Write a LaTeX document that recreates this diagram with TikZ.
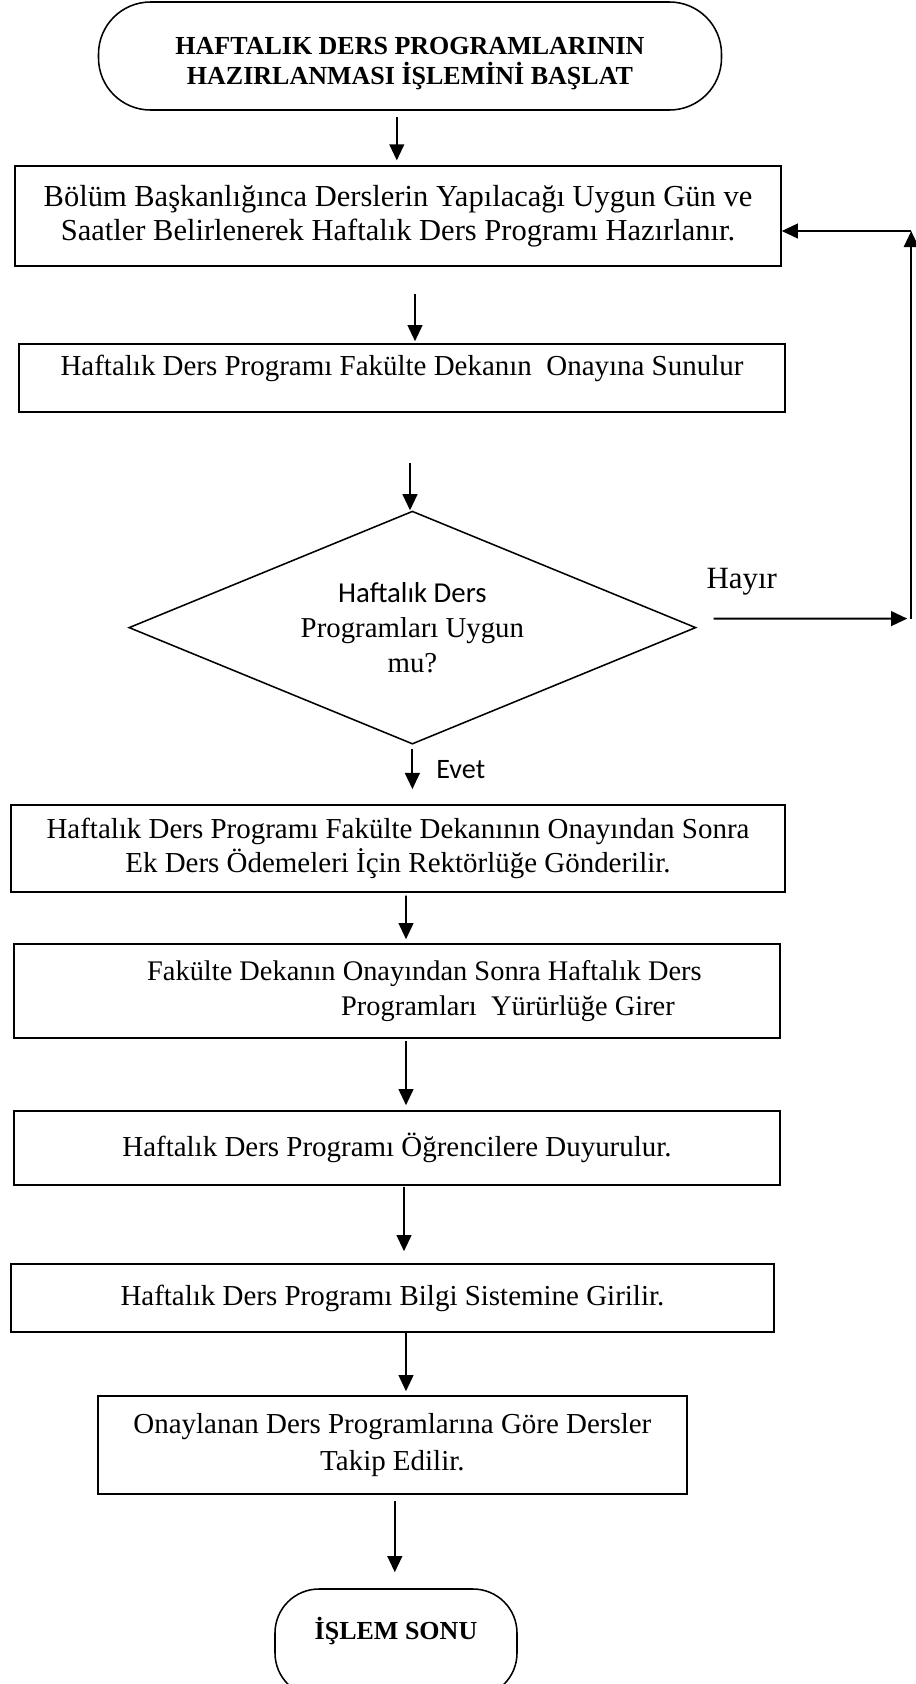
\documentclass[tikz,border=0pt]{standalone}
\usepackage{fontspec}
\setmainfont{Liberation Serif}
\newfontfamily\calibri{Carlito}
\usetikzlibrary{shapes.geometric,arrows.meta}

\begin{document}
\begin{tikzpicture}
		% Styles
		\tikzstyle{fleche}=[->,>={Triangle[length=11.5pt,width=10.5pt]},line width=1.4pt]
		\tikzstyle{boite}=[draw,line width=1.1pt,align=center,inner sep=2pt,font=\fontsize{20.6}{24}\selectfont]
		\tikzstyle{terminal}=[draw,line width=1.1pt,rounded corners=1.3cm,align=center,font=\fontsize{18.5}{21.3}\selectfont\bfseries]
		\tikzstyle{karar}=[diamond,draw,line width=1.1pt,shape aspect=2.43,inner sep=0pt,align=center,font=\fontsize{20.5}{25}\selectfont]
		\tikzstyle{commentaire}=[inner sep=0pt]
		% Dimensions
		\def\LargeurBoite{19.15cm}
		% Cadre
		\clip (0,0) rectangle (22.9,-42.1);
		% Noeuds
		\node[terminal,minimum width=15.575cm,minimum height=2.7cm] (Debut) at (10.25,-1.40) {\rule{0pt}{0.81cm}HAFTALIK DERS PROGRAMLARININ\\HAZIRLANMASI İŞLEMİNİ BAŞLAT};
		\node[boite,font=\fontsize{21.7}{24}\selectfont,minimum width=\LargeurBoite,minimum height=2.5cm] (Etape1) at (9.95,-5.40) {Bölüm Başkanlığınca Derslerin Yapılacağı Uygun Gün ve\\Saatler Belirlenerek Haftalık Ders Programı Hazırlanır.};
		\node[boite,minimum width=\LargeurBoite,minimum height=1.7cm,text depth=0.66cm] (Etape2) at (10.05,-9.45) {Haftalık Ders Programı Fakülte Dekanın\ \ Onayına Sunulur};
		\node[karar,minimum width=14.175cm,minimum height=5.825cm] (Test) at (10.31,-15.69) {{\calibri Haftalık Ders}\\Programları Uygun\\mu?};
		\node[boite,minimum width=19.35cm,minimum height=2.175cm] (Etape3) at (9.95,-21.21) {Haftalık Ders Programı Fakülte Dekanının Onayından Sonra\\Ek Ders Ödemeleri İçin Rektörlüğe Gönderilir.};
		\node[boite,font=\fontsize{20.2}{24.5}\selectfont,inner xsep=0pt,text width=\LargeurBoite,align=flush left,minimum height=2.35cm] (Etape4) at (9.925,-24.775) {\hspace*{3.33cm}Fakülte Dekanın Onayından Sonra Haftalık Ders\\\hspace*{8.18cm}Programları\ \ Yürürlüğe Girer};
		\node[boite,minimum width=\LargeurBoite,minimum height=1.85cm] (Etape5) at (9.925,-28.7) {Haftalık Ders Programı Öğrencilere Duyurulur.};
		\node[boite,minimum width=19.075cm,minimum height=1.7cm] (Etape6) at (9.81,-32.45) {Haftalık Ders Programı Bilgi Sistemine Girilir.};
		\node[boite,font=\fontsize{20.6}{27}\selectfont,minimum width=14.725cm,minimum height=2.45cm] (Etape7) at (9.81,-36.125) {Onaylanan Ders Programlarına Göre Dersler\\Takip Edilir.};
		\node[terminal,rounded corners=1.1cm,minimum width=6.05cm,minimum height=2.7cm,text depth=0.75cm] (Fin) at (9.9,-41.075) {İŞLEM SONU};
		%
		\coordinate (K1) at (22.78,-15.465);
		\coordinate (K2) at (22.78,-5.775);
		% Fleches
		\draw[fleche,shorten <=0.15cm,shorten >=0.12cm] ([xshift=-0.33cm]Debut.south) -- ([xshift=-0.03cm]Etape1.north);
		\draw[fleche,shorten <=0.675cm,shorten >=0.05cm] ([xshift=0.425cm]Etape1.south) -- ([xshift=0.325cm]Etape2.north);
		\draw[fleche,shorten <=1.25cm] ([xshift=0.2cm]Etape2.south) -- ([xshift=-0.06cm]Test.north);
		\draw[fleche,shorten <=0.1cm,shorten >=0.375cm] (Test.south) -- ([xshift=0.36cm]Etape3.north) node[commentaire,right,pos=0.41,xshift=0.575cm,font=\calibri\fontsize{20}{24}\selectfont] (evet) {Evet};
		\draw[fleche,shorten <=0.075cm,shorten >=0.1cm] ([xshift=0.2cm]Etape3.south) -- ([xshift=0.225cm]Etape4.north);
		\draw[fleche,shorten <=0.05cm,shorten >=0.125cm] ([xshift=0.225cm]Etape4.south) -- ([xshift=0.225cm]Etape5.north);
		\draw[fleche,shorten <=0.03cm,shorten >=0.3cm] ([xshift=0.175cm]Etape5.south) -- ([xshift=0.29cm]Etape6.north);
		\draw[fleche,shorten >=0.1cm] ([xshift=0.34cm]Etape6.south) -- ([xshift=0.34cm]Etape7.north);
		\draw[fleche,shorten <=0.15cm,shorten >=0.4cm] ([xshift=0.06cm]Etape7.south) -- ([xshift=-0.03cm]Fin.north);
		% Retour (Hayir)
		\draw[fleche,shorten <=0.425cm,shorten >=0.1cm] ([yshift=0.225cm]Test.east) -- (K1) node[commentaire,above=0.57cm,pos=0.21,font=\fontsize{22}{26}\selectfont] (hayir) {Hayır};
		\draw[fleche] (K1) -- (K2);
		\draw[fleche] (K2) -- ([yshift=-0.375cm]Etape1.east);
\end{tikzpicture}
\end{document}
